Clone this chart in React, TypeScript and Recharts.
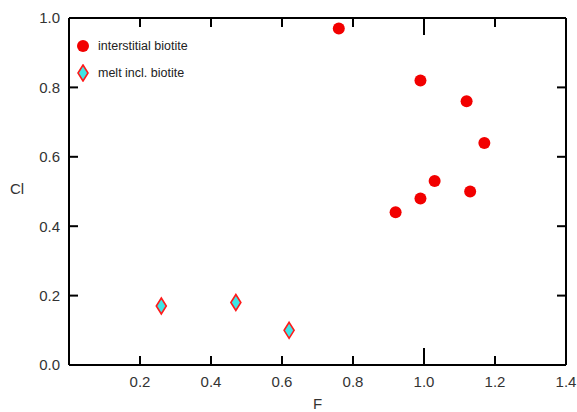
import React from "react";
import { ScatterChart, Scatter, XAxis, YAxis } from "recharts";

const interstitialF = [0.76, 0.99, 1.12, 1.17, 1.03, 1.13, 0.99, 0.92];
const interstitialCl = [0.97, 0.82, 0.76, 0.64, 0.53, 0.5, 0.48, 0.44];
const meltF = [0.26, 0.47, 0.62];
const meltCl = [0.17, 0.18, 0.1];
const xTicks = [0.2, 0.4, 0.6, 0.8, 1.0, 1.2, 1.4];
const yTicks = [0.0, 0.2, 0.4, 0.6, 0.8, 1.0];
const xInnerTicks = [0.2, 0.4, 0.6, 0.8, 1.0, 1.2];
const yInnerTicks = [0.2, 0.4, 0.6, 0.8];
const seriesNames = ["interstitial biotite", "melt incl. biotite"];
const majorX = 1.0;
const X_MIN = 0;
const X_MAX = 1.4;
const Y_MIN = 0;
const Y_MAX = 1;

const interstitial = interstitialF.map((x, i) => ({ x, y: interstitialCl[i] }));
const melt = meltF.map((x, i) => ({ x, y: meltCl[i] }));
const bottomMarks = xInnerTicks.map((x) => ({ x, y: Y_MIN }));
const topMarks = xInnerTicks.map((x) => ({ x, y: Y_MAX }));
const leftMarks = yInnerTicks.map((y) => ({ x: X_MIN, y }));
const rightMarks = yInnerTicks.map((y) => ({ x: X_MAX, y }));

const FONT = '"Liberation Sans", Arial, sans-serif';
const RED = "#f20000";
const CYAN = "#3ee6e6";
const DRED = "#ff1a1a";
const W = 577;
const H = 412;
const MARGIN = { top: 17, right: 10, bottom: 0, left: 0 };
const TICK = 9;
const TW = 2;
const fmt = (v: number) => v.toFixed(1);
const tickLen = (p: any) => {
  const v = Number(p?.payload?.x ?? p?.x);
  return Math.abs(v - majorX) < 1e-9 ? 2 * TICK - 1 : TICK;
};

const UpMark = (p: any) => (
  <rect x={p.cx - TW / 2} y={p.cy - tickLen(p)} width={TW} height={tickLen(p)} fill="#000" />
);
const DownMark = (p: any) => (
  <rect x={p.cx - TW / 2} y={p.cy} width={TW} height={tickLen(p)} fill="#000" />
);
const RightwardMark = (p: any) => (
  <rect x={p.cx} y={p.cy - TW / 2} width={TICK} height={TW} fill="#000" />
);
const LeftwardMark = (p: any) => (
  <rect x={p.cx - TICK} y={p.cy - TW / 2} width={TICK} height={TW} fill="#000" />
);

const Dot = (p: any) => <circle cx={p.cx} cy={p.cy} r={6} fill={RED} />;
const Diamond = (p: any) => (
  <polygon
    points={`${p.cx},${p.cy - 8} ${p.cx + 5},${p.cy} ${p.cx},${p.cy + 8} ${p.cx - 5},${p.cy}`}
    fill={CYAN}
    stroke={DRED}
    strokeWidth={1.6}
  />
);

export default function App() {
  const axisLine = { stroke: "#000", strokeWidth: 2 };
  const tickText = { fill: "#333", fontSize: 15, fontFamily: FONT };
  return (
    <div style={{ position: "absolute", left: 0, top: 0, width: W, height: H, fontFamily: FONT }}>
      <ScatterChart width={W} height={H} margin={MARGIN}>
        <XAxis
          dataKey="x"
          type="number"
          domain={[X_MIN, X_MAX]}
          ticks={xTicks}
          height={47}
          stroke="#000"
          axisLine={axisLine}
          tickLine={false}
          tickSize={-TICK}
          tickMargin={20}
          tick={tickText}
          tickFormatter={fmt}
          interval={0}
          label={{ value: "F", position: "insideBottom", offset: 3, fill: "#333", fontSize: 15, fontFamily: FONT }}
        />
        <XAxis
          xAxisId="t"
          orientation="top"
          type="number"
          domain={[X_MIN, X_MAX]}
          height={1}
          stroke="#000"
          axisLine={axisLine}
          tickLine={false}
          tick={false}
        />
        <YAxis
          dataKey="y"
          type="number"
          domain={[Y_MIN, Y_MAX]}
          ticks={yTicks}
          width={69}
          stroke="#000"
          axisLine={axisLine}
          tickLine={false}
          tickSize={-TICK}
          tickMargin={18}
          tick={tickText}
          tickFormatter={fmt}
          interval={0}
          label={{ value: "Cl", position: "insideLeft", offset: 10, dy: -3, fill: "#333", fontSize: 15, fontFamily: FONT }}
        />
        <YAxis
          yAxisId="r"
          orientation="right"
          type="number"
          domain={[Y_MIN, Y_MAX]}
          width={1}
          stroke="#000"
          axisLine={axisLine}
          tickLine={false}
          tick={false}
        />
        <Scatter data={bottomMarks} fill="#000" shape={UpMark} isAnimationActive={false} />
        <Scatter data={topMarks} fill="#000" shape={DownMark} isAnimationActive={false} />
        <Scatter data={leftMarks} fill="#000" shape={RightwardMark} isAnimationActive={false} />
        <Scatter data={rightMarks} fill="#000" shape={LeftwardMark} isAnimationActive={false} />
        <Scatter name={seriesNames[0]} data={interstitial} shape={Dot} isAnimationActive={false} />
        <Scatter name={seriesNames[1]} data={melt} shape={Diamond} isAnimationActive={false} />
      </ScatterChart>
      <div style={{ position: "absolute", left: 76, top: 37, fontSize: 12.5, color: "#222", lineHeight: "27px" }}>
        <div style={{ display: "flex", alignItems: "center", height: 18 }}>
          <svg width={14} height={18} style={{ marginRight: 8 }}>
            <circle cx={7} cy={9} r={6} fill={RED} />
          </svg>
          <span>{seriesNames[0]}</span>
        </div>
        <div style={{ display: "flex", alignItems: "center", height: 18, marginTop: 9 }}>
          <svg width={14} height={18} style={{ marginRight: 8 }}>
            <polygon points="7,1 12,9 7,17 2,9" fill={CYAN} stroke={DRED} strokeWidth={1.6} />
          </svg>
          <span>{seriesNames[1]}</span>
        </div>
      </div>
    </div>
  );
}
